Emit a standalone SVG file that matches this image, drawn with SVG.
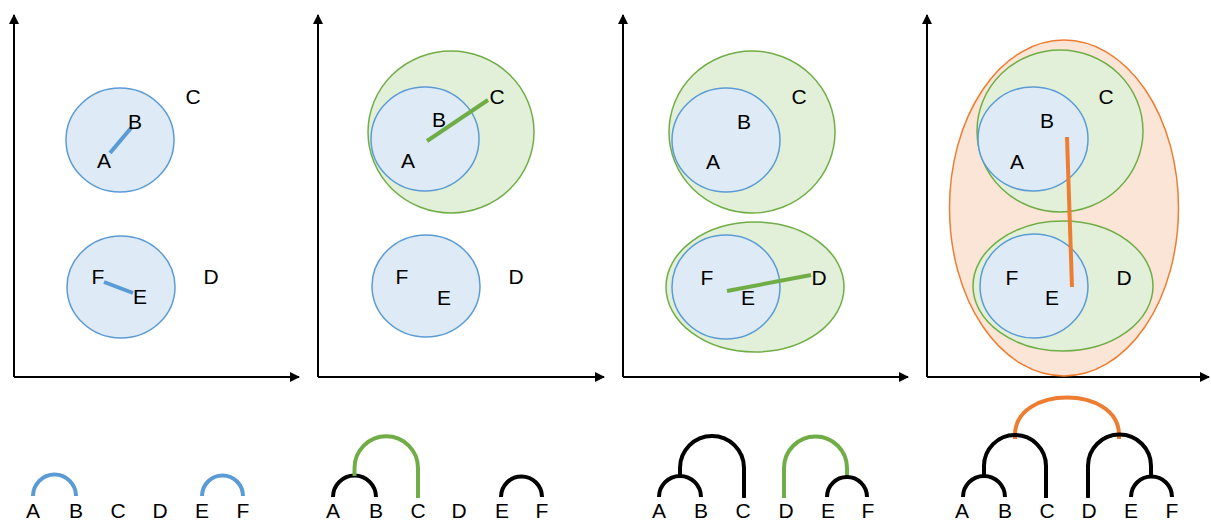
<svg xmlns="http://www.w3.org/2000/svg" width="1211" height="520" viewBox="0 0 1211 520">
<style>
.lbl{font-family:"Liberation Sans",Arial,sans-serif;font-size:21px;fill:#000;text-anchor:middle}
.axis{stroke:#000;stroke-width:2;fill:none}
.blue{fill:#DEEBF7;stroke:#5B9BD5;stroke-width:1.5}
.green{fill:#E2F0D9;stroke:#70AD47;stroke-width:1.5}
.orange{fill:#FBE5D6;stroke:#ED7D31;stroke-width:1.5}
.lb{stroke:#5B9BD5;stroke-width:4;fill:none}
.lg{stroke:#70AD47;stroke-width:4;fill:none}
.lo{stroke:#ED7D31;stroke-width:4;fill:none}
.lk{stroke:#000;stroke-width:4;fill:none}
</style>
<defs>
<marker id="arr" viewBox="0 0 10 10" refX="9" refY="5" markerWidth="5" markerHeight="5" orient="auto" markerUnits="strokeWidth">
<path d="M0,0 L10,5 L0,10 z" fill="#000"/>
</marker>
</defs>
<g id="axes">
<path class="axis" d="M14,377 L14,15" marker-end="url(#arr)"/>
<path class="axis" d="M14,377 L299,377" marker-end="url(#arr)"/>
<path class="axis" d="M318,377 L318,15" marker-end="url(#arr)"/>
<path class="axis" d="M318,377 L604,377" marker-end="url(#arr)"/>
<path class="axis" d="M623,377 L623,15" marker-end="url(#arr)"/>
<path class="axis" d="M623,377 L908,377" marker-end="url(#arr)"/>
<path class="axis" d="M927,377 L927,15" marker-end="url(#arr)"/>
<path class="axis" d="M927,377 L1209,377" marker-end="url(#arr)"/>
</g>
<g id="panel1">
<ellipse class="blue" cx="120" cy="140" rx="54" ry="52"/>
<ellipse class="blue" cx="121" cy="287" rx="54" ry="51"/>
</g>
<g id="panel2">
<ellipse class="green" cx="451" cy="132" rx="83" ry="81"/>
<ellipse class="blue" cx="425" cy="139" rx="54" ry="52"/>
<ellipse class="blue" cx="426" cy="286" rx="54" ry="51"/>
</g>
<g id="panel3">
<ellipse class="green" cx="752" cy="132" rx="83" ry="81"/>
<ellipse class="blue" cx="726" cy="140" rx="54" ry="52"/>
<ellipse class="green" cx="755" cy="287" rx="89" ry="65"/>
<ellipse class="blue" cx="726" cy="287" rx="54" ry="52"/>
</g>
<g id="panel4">
<ellipse class="orange" cx="1064" cy="208" rx="114.5" ry="168"/>
<ellipse class="green" cx="1060" cy="131" rx="83" ry="81"/>
<ellipse class="blue" cx="1033" cy="139" rx="55" ry="52"/>
<ellipse class="green" cx="1063" cy="286" rx="90" ry="65"/>
<ellipse class="blue" cx="1034" cy="286" rx="54" ry="52"/>
</g>
<g id="connectors">
<line class="lb" x1="110" y1="153" x2="131" y2="128"/>
<line class="lb" x1="104" y1="282" x2="133" y2="293"/>
<line class="lg" x1="427" y1="141" x2="488" y2="100"/>
<line class="lg" x1="727" y1="291" x2="811" y2="275"/>
<line class="lo" x1="1067" y1="137" x2="1072" y2="287"/>
</g>
<g id="labels">
<text class="lbl" x="104" y="168">A</text>
<text class="lbl" x="135" y="129">B</text>
<text class="lbl" x="193" y="104">C</text>
<text class="lbl" x="211" y="284">D</text>
<text class="lbl" x="140" y="304">E</text>
<text class="lbl" x="98" y="284">F</text>

<text class="lbl" x="408" y="168">A</text>
<text class="lbl" x="439" y="127">B</text>
<text class="lbl" x="497" y="104">C</text>
<text class="lbl" x="516" y="284">D</text>
<text class="lbl" x="444" y="305">E</text>
<text class="lbl" x="402" y="284">F</text>

<text class="lbl" x="713" y="169">A</text>
<text class="lbl" x="744" y="129">B</text>
<text class="lbl" x="799" y="104">C</text>
<text class="lbl" x="819" y="285">D</text>
<text class="lbl" x="748" y="305">E</text>
<text class="lbl" x="707" y="285">F</text>

<text class="lbl" x="1017" y="169">A</text>
<text class="lbl" x="1047" y="128">B</text>
<text class="lbl" x="1106" y="104">C</text>
<text class="lbl" x="1124" y="285">D</text>
<text class="lbl" x="1052" y="305">E</text>
<text class="lbl" x="1012" y="285">F</text>
</g>
<g id="dendro1">
<path class="lb" d="M33,496 A21.5,21.5 0 0 1 76,496"/>
<path class="lb" d="M202,496 A20.5,20.5 0 0 1 243,496"/>
<text class="lbl" x="33" y="518">A</text>
<text class="lbl" x="76" y="518">B</text>
<text class="lbl" x="118" y="518">C</text>
<text class="lbl" x="160" y="518">D</text>
<text class="lbl" x="202" y="518">E</text>
<text class="lbl" x="243" y="518">F</text>
</g>
<g id="dendro2">
<path class="lk" d="M333,497 A21.5,21.5 0 0 1 376,497"/>
<path class="lg" d="M354.5,476 L354.5,468 A31.75,31.75 0 0 1 418,468 L418,498"/>
<path class="lk" d="M501,497 A20.5,20.5 0 0 1 542,497"/>
<text class="lbl" x="333" y="518">A</text>
<text class="lbl" x="376" y="518">B</text>
<text class="lbl" x="418" y="518">C</text>
<text class="lbl" x="459" y="518">D</text>
<text class="lbl" x="502" y="518">E</text>
<text class="lbl" x="542" y="518">F</text>
</g>
<g id="dendro3">
<path class="lk" d="M659,497 A21,21 0 0 1 701,497"/>
<path class="lk" d="M680,476 L680,468 A32,32 0 0 1 744,468 L744,498"/>
<path class="lg" d="M784,498 L784,468 A31.5,31.5 0 0 1 847,468 L847,476"/>
<path class="lk" d="M827,497 A20,20 0 0 1 867,497"/>
<text class="lbl" x="659" y="518">A</text>
<text class="lbl" x="701" y="518">B</text>
<text class="lbl" x="743" y="518">C</text>
<text class="lbl" x="786" y="518">D</text>
<text class="lbl" x="828" y="518">E</text>
<text class="lbl" x="868" y="518">F</text>
</g>
<g id="dendro4">
<path class="lo" d="M1015,439 L1015,435 C1015,385 1119,385 1119,435 L1119,439"/>
<path class="lk" d="M963,497 A21,21 0 0 1 1005,497"/>
<path class="lk" d="M984,476 L984,466 A31,31 0 0 1 1046,466 L1046,498"/>
<path class="lk" d="M1088,498 L1088,466 A31.5,31.5 0 0 1 1151,466 L1151,476"/>
<path class="lk" d="M1131,497 A20.5,20.5 0 0 1 1172,497"/>
<text class="lbl" x="962" y="518">A</text>
<text class="lbl" x="1005" y="518">B</text>
<text class="lbl" x="1047" y="518">C</text>
<text class="lbl" x="1089" y="518">D</text>
<text class="lbl" x="1131" y="518">E</text>
<text class="lbl" x="1172" y="518">F</text>
</g>
</svg>
